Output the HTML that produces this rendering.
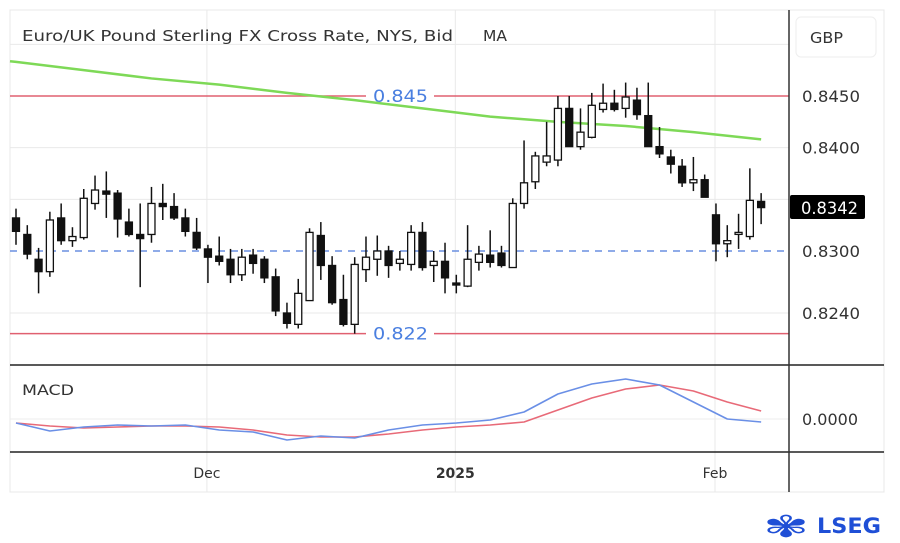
<!DOCTYPE html>
<html><head><meta charset="utf-8"><style>
html,body{margin:0;padding:0;background:#fff;}
svg{display:block;font-family:"DejaVu Sans","Liberation Sans",sans-serif;}
</style></head><body>
<svg id="chart" width="900" height="543" viewBox="0 0 900 543" xmlns="http://www.w3.org/2000/svg">
<rect x="10" y="10" width="874" height="482" fill="#fff" stroke="#e8e8e8"/>
<g id="grid"></g>
<g id="levels"></g>
<g id="ma"></g>
<g id="candles"></g>
<g id="macd"></g>
<line x1="10" y1="365" x2="884" y2="365" stroke="#222" stroke-width="1.5"/>
<line x1="10" y1="452" x2="884" y2="452" stroke="#222" stroke-width="1.5"/>
<line x1="789" y1="10" x2="789" y2="492" stroke="#333" stroke-width="1.5"/>
<text x="22" y="41" font-size="15" fill="#333" textLength="431" lengthAdjust="spacingAndGlyphs">Euro/UK Pound Sterling FX Cross Rate, NYS, Bid</text>
<text x="483" y="41" font-size="15" fill="#333" textLength="24" lengthAdjust="spacingAndGlyphs">MA</text>
<rect x="796" y="17" width="80" height="40" rx="5" fill="#fff" stroke="#eee"/>
<text x="810" y="43" font-size="15" fill="#333" textLength="33" lengthAdjust="spacingAndGlyphs">GBP</text>
<text x="22" y="395" font-size="14" fill="#333" textLength="52" lengthAdjust="spacingAndGlyphs">MACD</text>
<text x="802" y="425" font-size="16" fill="#333" textLength="56" lengthAdjust="spacingAndGlyphs">0.0000</text>
<g id="yticks"></g>
<g id="xticks"></g>
<rect x="790" y="195" width="75" height="24" rx="2" fill="#000"/>
<text x="801" y="214" font-size="16.5" fill="#fff" textLength="57" lengthAdjust="spacingAndGlyphs">0.8342</text>
<g>
<text x="763" y="537" font-size="30" fill="#1f4fd6" font-weight="bold" textLength="46" lengthAdjust="spacingAndGlyphs">✾</text>
<text x="817" y="533" font-size="21" fill="#1f4fd6" font-weight="bold" textLength="64" lengthAdjust="spacingAndGlyphs">LSEG</text>
</g>
</svg>
<script>
const opens=[0.8332,0.8316,0.8292,0.8280,0.8332,0.8310,0.8313,0.8346,0.8358,0.8356,0.8328,0.8316,0.8316,0.8346,0.8343,0.8332,0.8318,0.8302,0.8295,0.8292,0.8277,0.8296,0.8292,0.8275,0.8240,0.8229,0.8252,0.8315,0.8286,0.8253,0.8229,0.8282,0.8292,0.8300,0.8288,0.8287,0.8318,0.8286,0.8290,0.8269,0.8266,0.8289,0.8296,0.8298,0.8284,0.8346,0.8367,0.8386,0.8388,0.8438,0.8401,0.8410,0.8437,0.8443,0.8438,0.8446,0.8431,0.8401,0.8391,0.8382,0.8366,0.8369,0.8335,0.8307,0.8317,0.8314,0.8348];
const highs=[0.8341,0.8325,0.8303,0.8338,0.8346,0.8323,0.8360,0.8373,0.8377,0.8359,0.8341,0.8346,0.8362,0.8365,0.8356,0.8341,0.8332,0.8306,0.8314,0.8302,0.8302,0.8302,0.8295,0.8283,0.8250,0.8273,0.8322,0.8328,0.8295,0.8277,0.8294,0.8314,0.8315,0.8305,0.8300,0.8325,0.8328,0.8300,0.8308,0.8277,0.8325,0.8305,0.8320,0.8305,0.8351,0.8407,0.8396,0.8425,0.8450,0.8450,0.8438,0.8453,0.8462,0.8456,0.8463,0.8458,0.8463,0.8420,0.8398,0.8389,0.8391,0.8374,0.8346,0.8325,0.8336,0.8380,0.8356];
const lows=[0.8306,0.8292,0.8259,0.8275,0.8306,0.8304,0.8311,0.8340,0.8332,0.8313,0.8314,0.8265,0.8308,0.8330,0.8330,0.8314,0.8301,0.8269,0.8286,0.8269,0.8271,0.8278,0.8269,0.8237,0.8225,0.8225,0.8252,0.8272,0.8248,0.8227,0.8220,0.8270,0.8276,0.8274,0.8281,0.8281,0.8281,0.8270,0.8259,0.8259,0.8265,0.8281,0.8284,0.8284,0.8284,0.8341,0.8360,0.8382,0.8382,0.8401,0.8398,0.8409,0.8434,0.8435,0.8429,0.8427,0.8401,0.8390,0.8375,0.8362,0.8358,0.8352,0.8290,0.8294,0.8302,0.8311,0.8326];
const closes=[0.8319,0.8297,0.8280,0.8330,0.8310,0.8314,0.8351,0.8359,0.8355,0.8331,0.8316,0.8312,0.8346,0.8343,0.8332,0.8319,0.8303,0.8294,0.8290,0.8277,0.8294,0.8288,0.8274,0.8242,0.8230,0.8259,0.8318,0.8286,0.8250,0.8229,0.8287,0.8294,0.8300,0.8286,0.8292,0.8318,0.8284,0.8290,0.8274,0.8268,0.8292,0.8297,0.8289,0.8286,0.8346,0.8366,0.8392,0.8392,0.8438,0.8401,0.8415,0.8441,0.8443,0.8437,0.8449,0.8432,0.8401,0.8394,0.8384,0.8366,0.8369,0.8352,0.8307,0.8310,0.8318,0.8349,0.8342];
const maIndex=[0,6,12,18,24,30,36,42,48,54,60,66];
const maValues=[0.8483,0.8475,0.8467,0.8461,0.8453,0.8446,0.8438,0.8430,0.8425,0.8421,0.8415,0.8408];
const macdIndex=[0,3,6,9,12,15,18,21,24,27,30,33,36,39,42,45,48,51,54,57,60,63,66];
const macdLine=[-0.0002,-0.0006,-0.0004,-0.0003,-0.00035,-0.0003,-0.00055,-0.00065,-0.00105,-0.00085,-0.00095,-0.00055,-0.0003,-0.0002,-0.00005,0.00035,0.00125,0.00175,0.002,0.0017,0.00085,0,-0.00015];
const signalLine=[-0.0002,-0.00035,-0.00045,-0.0004,-0.00035,-0.00035,-0.0004,-0.00055,-0.0008,-0.0009,-0.0009,-0.00075,-0.00055,-0.0004,-0.0003,-0.00015,0.00045,0.00105,0.0015,0.0017,0.0014,0.00085,0.0004];
const yTickValues=[0.8450,0.8400,0.8300,0.8240];
const yTickLabels=["0.8450","0.8400","0.8300","0.8240"];
const gridValues=[0.850,0.840,0.835,0.824];
const levelValues=[0.845,0.822];
const levelLabels=["0.845","0.822"];
const dashedLevel=0.830;
const xTickIndex=[17,39,62];
const xTickLabels=["Dec","2025","Feb"];

const NS="http://www.w3.org/2000/svg";
function mk(tag,attrs,parent){const e=document.createElementNS(NS,tag);for(const k in attrs)e.setAttribute(k,attrs[k]);parent.appendChild(e);return e;}
const xS=i=>16+i*11.29;
const yS=p=>96+(0.845-p)*10333;
const mY=v=>419-v*20000;
const grid=document.getElementById('grid');
gridValues.forEach(v=>{const l=mk('line',{x1:10,x2:789,y1:yS(v),y2:yS(v),stroke:'#e9e9e9'},grid);

});
xTickIndex.forEach(i=>{const l=mk('line',{x1:xS(i)-1,x2:xS(i)-1,y1:10,y2:492,stroke:'#e9e9e9'},grid);

});
mk('line',{x1:10,x2:789,y1:mY(0),y2:mY(0),stroke:'#ececec'},grid);
const lv=document.getElementById('levels');
levelValues.forEach((v,k)=>{const y=yS(v);
const l=mk('line',{x1:10,x2:789,y1:y,y2:y,stroke:'#e06070','stroke-width':1.5},lv);


mk('rect',{x:366,y:y-10,width:68,height:20,fill:'#fff'},lv);
const t=mk('text',{x:373,y:y+6,'font-size':17,fill:'#4a7fe0',textLength:55,lengthAdjust:'spacingAndGlyphs'},lv);t.textContent=levelLabels[k];

});
const dl=mk('line',{x1:10,x2:789,y1:yS(dashedLevel),y2:yS(dashedLevel),stroke:'#6a8fe0','stroke-width':1.5,'stroke-dasharray':'7 6'},lv);


const ma=document.getElementById('ma');
let d='M10 '+(yS(maValues[0])-0.7);
maIndex.forEach((i,k)=>{d+=' L'+xS(i)+' '+yS(maValues[k]);});
const mp=mk('path',{d:d,fill:'none',stroke:'#7ed957','stroke-width':2.5},ma);


const cg=document.getElementById('candles');
opens.forEach((o,i)=>{const c=closes[i],x=xS(i);const g=mk('g',{},cg);


mk('line',{x1:x,x2:x,y1:yS(highs[i]),y2:yS(lows[i]),stroke:'#111','stroke-width':1.5},g);
const top=yS(Math.max(o,c)),bot=yS(Math.min(o,c));
mk('rect',{x:x-3.5,y:top,width:7,height:Math.max(bot-top,2),fill:c>=o?'#fff':'#111',stroke:'#111','stroke-width':1.3},g);});
const mg=document.getElementById('macd');
function line(vals,col,name){let p='';macdIndex.forEach((i,k)=>{p+=(k?' L':'M')+xS(i)+' '+mY(vals[k]);});
const e=mk('path',{d:p,fill:'none',stroke:col,'stroke-width':1.6,'stroke-linejoin':'round'},mg);

}
line(signalLine,'#e86a78','macd-signal-line');
line(macdLine,'#6a8fe6','macd-line');
const yt=document.getElementById('yticks');
yTickValues.forEach((v,k)=>{const t=mk('text',{x:802,y:yS(v)+6,'font-size':16,fill:'#333',textLength:58,lengthAdjust:'spacingAndGlyphs'},yt);t.textContent=yTickLabels[k];

});
const xt=document.getElementById('xticks');
xTickIndex.forEach((i,k)=>{const t=mk('text',{x:xS(i)-1,y:478,'font-size':14,fill:'#333','text-anchor':'middle','font-weight':k==1?'bold':'normal'},xt);t.textContent=xTickLabels[k];

});
</script>
</body></html>
